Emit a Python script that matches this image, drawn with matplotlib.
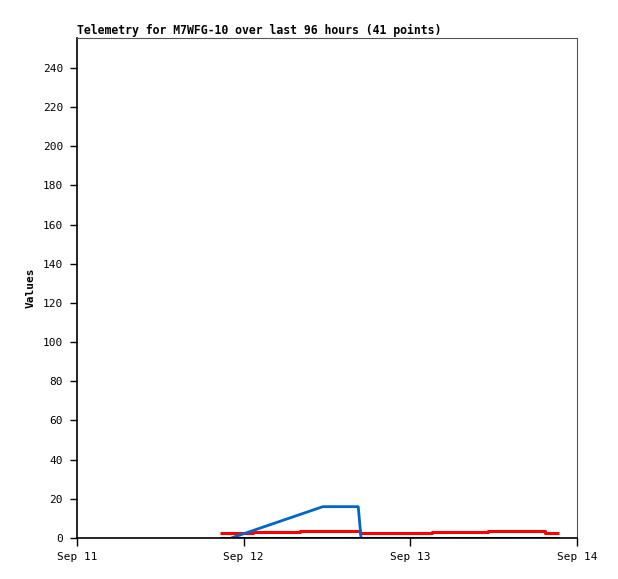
import matplotlib
matplotlib.use("Agg")
import matplotlib.pyplot as plt

# times in hours since Sep 11 00:00
red_t = [20.6, 25.4, 25.4, 32.1, 32.1, 40.8, 40.8, 51.1, 51.1, 59.2, 59.2, 67.4, 67.4, 69.4]
red_v = [2.7, 2.7, 3.2, 3.2, 3.7, 3.7, 2.7, 2.7, 3.2, 3.2, 3.7, 3.7, 2.7, 2.7]
blue_t = [22.2, 35.4, 40.5, 40.9]
blue_v = [0.0, 16.0, 16.0, 0.0]
black_t = [20.6, 69.4]
black_v = [0.0, 0.0]
xtick_labels = ["Sep 11", "Sep 12", "Sep 13", "Sep 14"]
yticks = [0, 20, 40, 60, 80, 100, 120, 140, 160, 180, 200, 220, 240]

plt.rcParams['font.family'] = ['DejaVu Sans Mono']
fig = plt.figure(figsize=(6.18, 5.79), dpi=100)
ax = fig.add_axes([77/618, 1-538/579, 500/618, 500/579])

ax.plot(black_t, black_v, color='black', lw=2.2, solid_capstyle='butt')
ax.plot(red_t, red_v, color='#ff0000', lw=2.2, solid_capstyle='butt')
ax.plot(blue_t, blue_v, color='#0066cc', lw=2.0, solid_capstyle='butt')

ax.set_xlim(0, 72)
ax.set_ylim(0, 255.3)
ax.set_xticks([0, 24, 48, 72])
ax.set_xticklabels(xtick_labels)
ax.set_yticks(yticks)
ax.tick_params(axis='y', labelsize=8, length=5, width=1, direction='out', pad=5)
ax.tick_params(axis='x', labelsize=8, length=6, width=1, direction='out', pad=4)
for s in ['top', 'right']:
    ax.spines[s].set_color('#555555')
for s in ['left', 'bottom']:
    ax.spines[s].set_color('black')
    ax.spines[s].set_linewidth(1.2)

ax.set_ylabel('Values', fontsize=8, fontweight='bold', labelpad=5)
ax.set_title('Telemetry for M7WFG-10 over last 96 hours (41 points)', loc='left',
             fontsize=8.3, fontweight='bold', pad=3)

fig.savefig('out.png', dpi=100)
